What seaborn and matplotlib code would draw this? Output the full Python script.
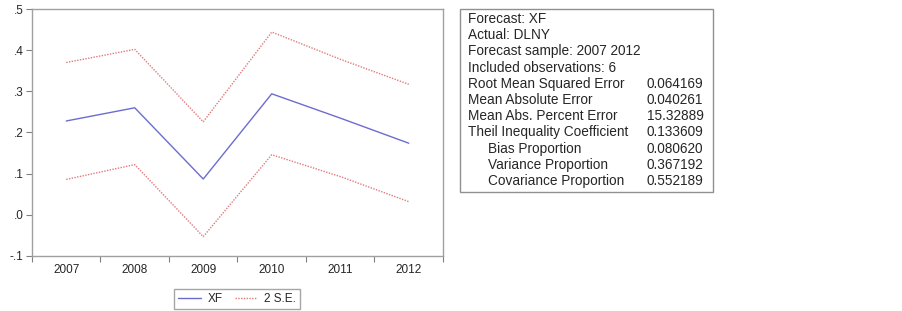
import numpy as np
import pandas as pd
import matplotlib
matplotlib.use("Agg")
import matplotlib.pyplot as plt
import seaborn as sns
from matplotlib.patches import Rectangle

# forecast values
years = ["2007", "2008", "2009", "2010", "2011", "2012"]
xf = [0.228, 0.260, 0.087, 0.294, 0.235, 0.174]
upper = [0.370, 0.402, 0.226, 0.444, 0.378, 0.317]
lower = [0.086, 0.122, -0.053, 0.146, 0.093, 0.032]

# forecast evaluation table
stat_head = ["Forecast: XF", "Actual: DLNY", "Forecast sample: 2007 2012",
             "Included observations: 6"]
stat_names = ["Root Mean Squared Error", "Mean Absolute Error",
              "Mean Abs. Percent Error", "Theil Inequality Coefficient",
              "Bias Proportion", "Variance Proportion", "Covariance Proportion"]
stat_values = ["0.064169", "0.040261", "15.32889", "0.133609",
               "0.080620", "0.367192", "0.552189"]
stat_indent = [False, False, False, False, True, True, True]

sns.set_style("white")
plt.rcParams["font.family"] = ["Liberation Sans", "DejaVu Sans"]

df = pd.DataFrame({"pos": np.arange(len(years)), "XF": xf,
                   "up": upper, "lo": lower})

fig = plt.figure(figsize=(9.03, 3.11), dpi=100)
ax = fig.add_axes([32 / 903, 1 - 256 / 311, 411 / 903, 247 / 311])

blue = "#6c6cd0"
red = "#e07a7a"
sns.lineplot(data=df, x="pos", y="XF", ax=ax, color=blue, lw=1.0, label="XF")
sns.lineplot(data=df, x="pos", y="up", ax=ax, color=red, lw=1.0,
             linestyle=(0, (1, 1)), label="2 S.E.")
sns.lineplot(data=df, x="pos", y="lo", ax=ax, color=red, lw=1.0,
             linestyle=(0, (1, 1)), label="_nolegend_")

ax.set_xlim(-0.5, len(years) - 0.5)
ax.set_ylim(-0.1, 0.5)
ax.set_xlabel("")
ax.set_ylabel("")

# major ticks at the year boundaries, labels centred on minor ticks
ax.set_xticks(np.arange(-0.5, len(years), 1.0))
ax.set_xticklabels([])
ax.set_xticks(np.arange(len(years)), minor=True)
ax.set_xticklabels(years, minor=True, fontsize=8.5)
ax.tick_params(axis="x", which="major", length=4, width=0.8, color="#808080",
               direction="out", bottom=True)
ax.tick_params(axis="x", which="minor", length=0, pad=6)

yt = [-0.1, 0.0, 0.1, 0.2, 0.3, 0.4, 0.5]
ax.set_yticks(yt)
ax.set_yticklabels([("%.1f" % v).replace("0.", ".") for v in yt], fontsize=8.5)
ax.tick_params(axis="y", length=4, width=0.8, color="#808080",
               direction="out", left=True, pad=2)

for s in ax.spines.values():
    s.set_color("#a0a0a0")
    s.set_linewidth(1.0)

leg = ax.legend(loc="center", bbox_to_anchor=(237 / 903, 1 - 299 / 311),
                bbox_transform=fig.transFigure, ncol=2, fontsize=8.5,
                frameon=True, fancybox=False, handlelength=1.9,
                handletextpad=0.6, columnspacing=1.0, borderpad=0.35)
leg.get_frame().set_edgecolor("#909090")
leg.get_frame().set_linewidth(1.0)

# statistics box
fig.patches.append(Rectangle((460 / 903, 1 - 192 / 311), 253 / 903, 183 / 311,
                             transform=fig.transFigure, fill=False,
                             edgecolor="#909090", lw=1.0))
y0 = 19
dy = 16.2
for i, t in enumerate(stat_head):
    fig.text(468 / 903, 1 - (y0 + i * dy) / 311, t, fontsize=9.8, va="center")
for j, (n, v, ind) in enumerate(zip(stat_names, stat_values, stat_indent)):
    yy = 1 - (y0 + (len(stat_head) + j) * dy) / 311
    fig.text((488 if ind else 468) / 903, yy, n, fontsize=9.8, va="center")
    fig.text(647 / 903, yy, v, fontsize=9.8, va="center")

fig.savefig("out.png", dpi=100)
